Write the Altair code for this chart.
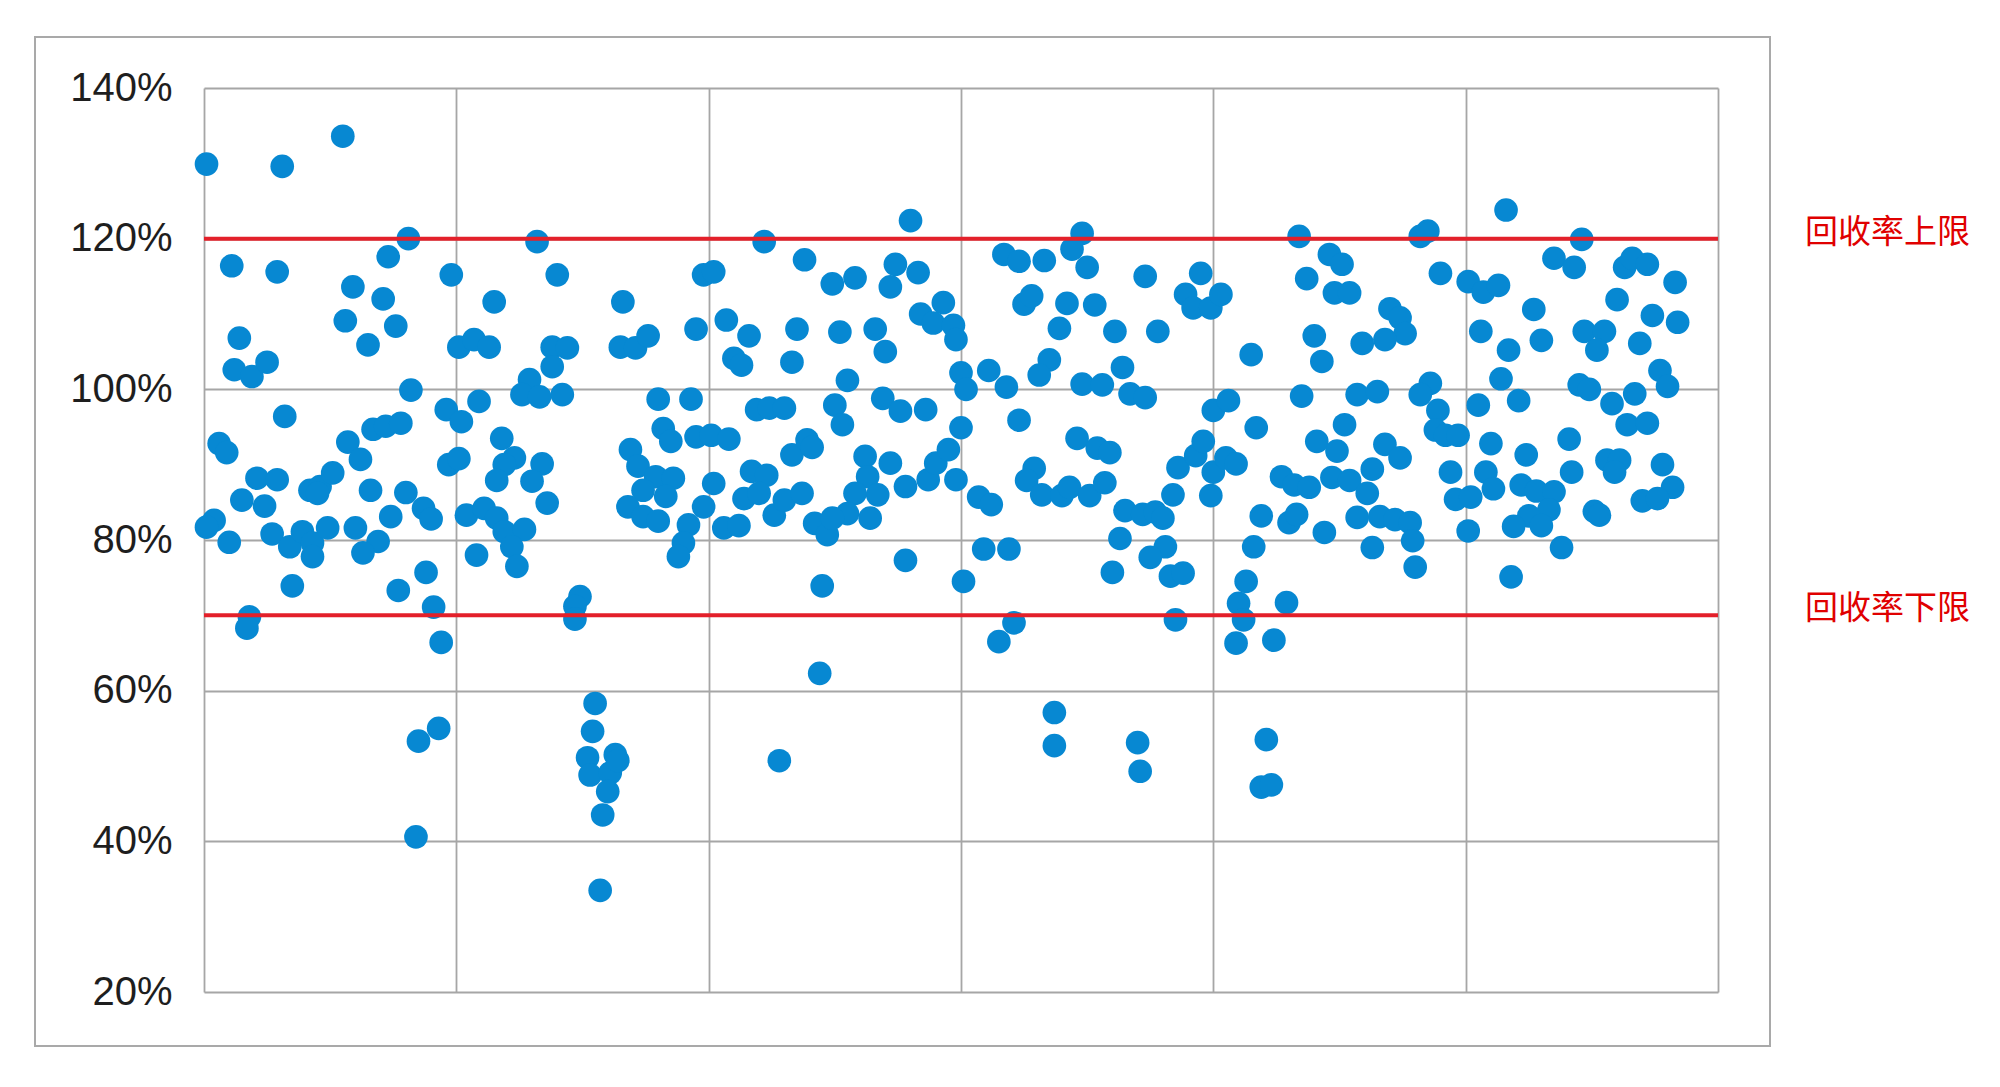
import altair as alt
import pandas as pd

# (sample index, recovery rate %), grouped by gridline band
band1 = [(1,129.9),(31,129.6),(55,133.6),(81,120.0),(73,117.6),(11,116.4),(29,115.6),(98,115.2),(59,113.6),(71,112.0),
         (56,109.1),(76,108.4),(65,105.9),(101,105.6),(14,106.8),(12,102.6),(19,101.7),(25,103.6),(82,99.9),(32,96.4),
         (96,97.3),(102,95.7),(6,92.8),(9,91.6),(57,93.0),(62,90.7),(67,94.7),(72,95.1),(78,95.5),(97,90.0),
         (101,90.8),(21,88.2),(29,88.0),(15,85.3),(24,84.5),(42,86.6),(46,87.1),(51,88.9),(45,86.2),(66,86.6),
         (80,86.3),(87,84.2),(90,82.8),(74,83.1),(4,82.6),(10,79.7),(1,81.7),(27,80.8),(34,79.1),(39,81.1),
         (43,79.6),(49,81.6),(60,81.6),(69,79.8),(63,78.3),(104,83.3),(43,77.8),(35,73.9),(77,73.3),(88,75.7),
         (91,71.1),(94,66.4),(18,69.8),(17,68.3),(93,55.0),(85,53.3),(84,40.6)]
band2 = [(132,119.6),(140,115.2),(115,111.6),(166,111.6),(198,115.2),(107,106.6),(113,105.6),(138,105.6),(144,105.5),(138,103.0),
         (129,101.3),(126,99.3),(133,99.0),(142,99.3),(109,98.4),(118,93.5),(123,90.9),(119,90.0),(116,87.9),(134,90.1),
         (130,87.8),(136,84.9),(165,105.6),(171,105.5),(176,107.1),(195,108.0),(180,98.7),(193,98.7),(182,94.8),(185,93.1),
         (195,93.7),(201,93.9),(169,92.0),(172,89.8),(179,88.4),(186,88.2),(183,85.8),(174,86.6),(168,84.4),(174,83.1),
         (180,82.5),(192,82.0),(198,84.4),(202,87.5),(190,79.6),(188,77.8),(111,84.2),(116,82.9),(119,81.1),(127,81.4),
         (122,79.1),(108,78.0),(124,76.5),(149,72.5),(147,71.2),(147,69.5),(155,58.3),(154,54.6),(152,51.1),(153,48.8),
         (163,51.5),(161,49.1),(160,46.6),(158,43.5),(157,33.5),(164,50.7)]
band3 = [(280,122.4),(222,119.6),(238,117.2),(202,115.6),(249,114.0),(258,114.8),(274,116.6),(272,113.6),(283,115.5),(293,111.5),
         (284,110.0),(289,108.8),(297,108.5),(298,106.6),(207,109.2),(216,107.1),(235,108.0),(252,107.6),(266,108.0),(270,105.0),
         (210,104.1),(213,103.2),(233,103.6),(255,101.2),(300,102.2),(302,100.0),(219,97.3),(224,97.5),(230,97.5),(250,97.9),
         (253,95.3),(269,98.8),(276,97.1),(286,97.3),(300,94.9),(208,93.4),(233,91.3),(239,93.3),(241,92.3),(262,91.1),
         (272,90.2),(263,88.4),(267,86.0),(258,86.2),(255,83.5),(264,82.9),(278,87.1),(287,88.0),(290,90.2),(295,92.0),
         (298,88.0),(217,89.1),(223,88.6),(214,85.5),(220,86.2),(226,83.3),(230,85.3),(237,86.2),(206,81.6),(212,81.9),
         (242,82.2),(247,80.7),(249,82.9),(278,77.3),(245,73.9),(301,74.5),(244,62.3),(228,50.7)]
band4 = [(348,120.7),(317,117.9),(323,117.0),(333,117.1),(344,118.6),(350,116.2),(373,115.0),(395,115.4),(389,112.6),(392,110.8),
         (399,110.8),(403,112.6),(325,111.3),(328,112.4),(342,111.4),(353,111.2),(339,108.1),(361,107.7),(378,107.7),(335,103.9),
         (331,101.9),(364,102.9),(311,102.5),(318,100.3),(348,100.7),(356,100.6),(367,99.4),(373,98.9),(400,97.2),(323,95.9),
         (346,93.5),(354,92.2),(359,91.6),(329,89.5),(326,87.9),(332,86.0),(340,85.9),(343,87.0),(351,85.9),(357,87.6),
         (307,85.7),(312,84.7),(386,89.6),(393,91.2),(396,93.1),(400,89.0),(399,85.9),(384,86.0),(365,83.9),(372,83.4),
         (377,83.7),(380,82.9),(363,80.2),(381,79.1),(375,77.7),(383,75.2),(388,75.6),(360,75.7),(309,78.8),(319,78.8),
         (321,69.0),(315,66.5),(385,69.4),(337,57.1),(337,52.7),(370,53.1),(371,49.3)]
band5 = [(434,120.3),(482,120.3),(485,121.0),(446,117.9),(451,116.6),(490,115.4),(501,114.3),(437,114.7),(448,112.8),(454,112.8),
         (470,110.7),(474,109.5),(476,107.4),(468,106.6),(459,106.1),(440,107.1),(443,103.7),(415,104.6),(435,99.1),(457,99.3),
         (465,99.7),(486,100.8),(482,99.3),(489,97.2),(488,94.6),(492,93.9),(497,93.9),(406,98.5),(417,94.9),(452,95.3),
         (441,93.1),(449,91.8),(468,92.7),(474,90.9),(405,90.9),(409,90.1),(427,88.4),(432,87.3),(438,87.0),(447,88.3),
         (454,87.9),(463,89.4),(461,86.2),(494,89.0),(496,85.4),(501,81.2),(419,83.2),(430,82.3),(433,83.4),(444,81.0),
         (457,83.0),(466,83.1),(472,82.7),(478,82.3),(479,79.9),(463,79.0),(480,76.4),(416,79.1),(413,74.5),(410,71.6),
         (412,69.4),(409,66.3),(429,71.7),(424,66.7),(421,53.5),(419,47.2),(423,47.5)]
band6 = [(516,123.8),(546,119.9),(535,117.4),(543,116.2),(563,116.2),(566,117.4),(572,116.6),(583,114.2),(507,112.9),(513,113.8),
         (527,110.6),(560,111.9),(574,109.8),(584,108.9),(506,107.7),(517,105.2),(530,106.5),(547,107.7),(555,107.7),(552,105.2),
         (569,106.1),(577,102.5),(580,100.4),(514,101.4),(545,100.6),(549,100.0),(558,98.1),(567,99.4),(505,97.9),(521,98.5),
         (564,95.3),(572,95.5),(510,92.8),(541,93.4),(524,91.3),(542,89.0),(556,90.6),(561,90.6),(559,89.0),(578,90.0),
         (582,87.0),(570,85.2),(576,85.5),(508,89.0),(511,86.8),(502,85.7),(522,87.3),(528,86.5),(535,86.4),(533,84.0),
         (525,83.2),(519,81.8),(530,81.9),(551,83.8),(553,83.3),(538,79.0),(518,75.1)]

limit_names = ["回收率上限", "回收率下限"]
limit_values = [120, 70]
y_ticks = [20, 40, 60, 80, 100, 120, 140]
x_ticks = [0, 100, 200, 300, 400, 500, 600]

rows = band1 + band2 + band3 + band4 + band5 + band6
df = pd.DataFrame(rows, columns=["idx", "rate"])
lim_df = pd.DataFrame({"name": limit_names, "rate": limit_values})
box_df = pd.DataFrame({"a": [0]})

W, H = 1514, 904

yscale = alt.Scale(domain=[20, 140], nice=False, zero=False)
yaxis = alt.Axis(values=y_ticks, labelExpr="datum.value + '%'", labelFontSize=40,
                 labelFont="Liberation Sans", labelColor="#1e1e1e", labelPadding=32,
                 ticks=False, domain=False, title=None, grid=True)
xscale = alt.Scale(domain=[0, 600], nice=False, zero=False)
xaxis = alt.Axis(values=x_ticks, labels=False, ticks=False, domain=False, title=None, grid=True)

border = alt.Chart(box_df).mark_rect(fillOpacity=0, stroke="#a9a9a9", strokeWidth=2).encode(
    x=alt.value(-169), x2=alt.value(1566), y=alt.value(-51), y2=alt.value(958))

rules = alt.Chart(lim_df).mark_rule(color="#e3202a", strokeWidth=4).encode(
    y=alt.Y("rate:Q", scale=yscale, axis=yaxis))

points = alt.Chart(df).mark_circle(size=560, color="#0788d2", opacity=1).encode(
    x=alt.X("idx:Q", scale=xscale, axis=xaxis),
    y=alt.Y("rate:Q", scale=yscale, axis=yaxis))

labels = alt.Chart(lim_df).mark_text(align="left", baseline="middle", font="Noto Sans CJK SC",
                                     fontSize=33, color="#e00000", dy=-6).encode(
    y=alt.Y("rate:Q", scale=yscale, axis=yaxis), x=alt.value(1601), text="name:N")

chart = alt.layer(border, points, rules, labels).properties(
    width=W, height=H,
    padding={"left": 196, "top": 80, "right": 270, "bottom": 80},
    autosize=alt.AutoSizeParams(type="none"),
    background="white",
).configure_view(stroke=None).configure_axis(gridColor="#a6a6a6", gridWidth=1.8)

chart.save("out.html", embed_options={"renderer": "svg", "actions": False})
